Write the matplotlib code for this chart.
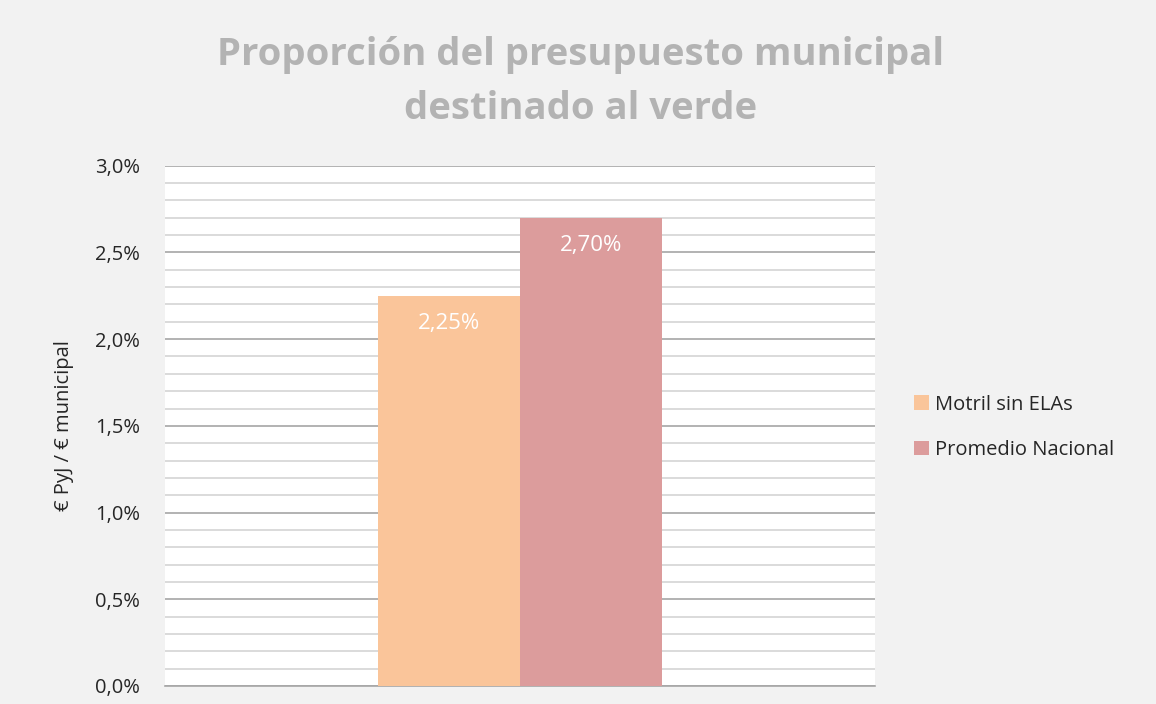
import numpy as np
import matplotlib
matplotlib.use("Agg")
import matplotlib.pyplot as plt
from matplotlib.ticker import MultipleLocator, FuncFormatter

# ── data ────────────────────────────────────────────────────────────────────
series = ["Motril sin ELAs", "Promedio Nacional"]
values = [2.25, 2.70]           # % of municipal budget
labels = ["2,25%", "2,70%"]
colors = ["#FAC59A", "#DC9C9C"]

BG = "#F2F2F2"
GRID_MAJOR = "#A6A6A6"
GRID_MINOR = "#D4D4D4"
TITLE_C = "#B3B3B3"
TEXT_C = "#262626"

plt.rcParams["font.family"] = ["Open Sans", "DejaVu Sans"]

fig = plt.figure(figsize=(11.56, 7.04), dpi=100, facecolor=BG)
ax = fig.add_axes([0.1427, 0.0256, 0.6142, 0.739])
ax.set_facecolor("white")

width = 0.2
offsets = [-0.1, 0.1]
for off, v, lab, col, name in zip(offsets, values, labels, colors, series):
    ax.bar(off, v, width=width, color=col, label=name, zorder=3)
    ax.text(off, v - 0.16, lab, ha="center", va="center", color="white",
            fontsize=16, zorder=4)

ax.set_xlim(-0.5, 0.5)
ax.set_ylim(0, 3.0)
ax.yaxis.set_major_locator(MultipleLocator(0.5))
ax.yaxis.set_minor_locator(MultipleLocator(0.1))
ax.yaxis.set_major_formatter(FuncFormatter(lambda v, _: f"{v:.1f}%".replace(".", ",")))
ax.grid(axis="y", which="minor", color=GRID_MINOR, linewidth=1.2, zorder=0)
ax.grid(axis="y", which="major", color=GRID_MAJOR, linewidth=1.2, zorder=1)
ax.set_xticks([])
ax.tick_params(axis="y", which="both", length=0, labelsize=14.5, colors=TEXT_C, pad=18)

for s in ["top", "right", "left"]:
    ax.spines[s].set_visible(False)
ax.spines["bottom"].set_color(GRID_MAJOR)
ax.spines["bottom"].set_linewidth(1.2)

ax.set_ylabel("€ PyJ / € municipal", fontsize=14.5, color=TEXT_C, labelpad=15)

fig.text(0.502, 0.884, "Proporción del presupuesto municipal\ndestinado al verde",
         ha="center", va="center", fontsize=27.5, fontweight="bold", color=TITLE_C,
         linespacing=1.55)

leg = fig.legend(loc="center left", bbox_to_anchor=(0.775, 0.393), frameon=False,
                 fontsize=14.5, handlelength=0.75, handleheight=0.75, handletextpad=0.3,
                 labelspacing=1.25)
for t in leg.get_texts():
    t.set_color(TEXT_C)

fig.savefig("out.png", dpi=100, facecolor=BG)
